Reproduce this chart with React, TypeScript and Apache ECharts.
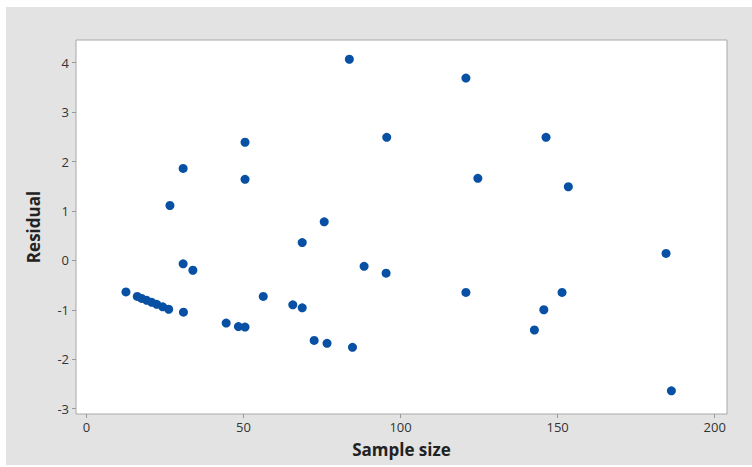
import React, { useEffect, useRef } from "react";
import * as echarts from "echarts";

const sampleSize: number[] = [
  12.6, 16.2, 17.6, 19.2, 20.8, 22.4, 24.3, 26.2, 30.9, 26.6, 30.8, 30.8, 33.9,
  50.5, 50.5, 44.5, 48.4, 50.5, 56.3, 65.7, 68.7, 68.7, 72.5, 75.7, 76.6, 83.7,
  84.7, 88.4, 95.6, 95.4, 120.8, 120.8, 124.6, 142.6, 145.6, 146.3, 151.4, 153.4,
  184.5, 186.2,
];
const residual: number[] = [
  -0.64, -0.73, -0.77, -0.81, -0.85, -0.89, -0.94, -0.99, -1.05, 1.11, 1.86, -0.07,
  -0.2, 2.39, 1.64, -1.27, -1.34, -1.35, -0.73, -0.9, -0.96, 0.36, -1.62, 0.78,
  -1.68, 4.07, -1.76, -0.12, 2.49, -0.26, 3.69, -0.65, 1.66, -1.41, -1.0, 2.49,
  -0.65, 1.49, 0.14, -2.64,
];
const xTicks: number[] = [0, 50, 100, 150, 200];
const yTicks: number[] = [-3, -2, -1, 0, 1, 2, 3, 4];

const FONT = "'Open Sans', 'Noto Sans', sans-serif";

export default function App() {
  const ref = useRef<HTMLDivElement>(null);
  useEffect(() => {
    if (!ref.current) return;
    const chart = echarts.init(ref.current, null, { renderer: "svg" });
    const points = sampleSize.map((x, i) => [x, residual[i]]);
    chart.setOption({
      animation: false,
      backgroundColor: "#ffffff",
      graphic: [
        {
          type: "rect",
          z: -10,
          silent: true,
          shape: { x: 6, y: 7, width: 746, height: 458 },
          style: { fill: "#e3e3e3" },
        },
      ],
      grid: {
        left: 76,
        top: 40,
        width: 651,
        height: 374,
        show: true,
        backgroundColor: "#ffffff",
        borderColor: "#a8a8a8",
        borderWidth: 1,
      },
      xAxis: {
        type: "value",
        min: -3.3,
        max: 203.9,
        name: "Sample size",
        nameLocation: "middle",
        nameGap: 27,
        nameTextStyle: { fontFamily: FONT, fontWeight: "bold", fontSize: 17, color: "#222" },
        axisLine: { show: false, onZero: false },
        splitLine: { show: false },
        axisTick: {
          show: true,
          length: 4,
          lineStyle: { color: "#999" },
          customValues: xTicks,
        },
        axisLabel: {
          customValues: xTicks,
          fontFamily: FONT,
          fontSize: 13,
          color: "#333",
          margin: 6,
        },
      },
      yAxis: {
        type: "value",
        min: -3.11,
        max: 4.46,
        name: "Residual",
        nameLocation: "middle",
        nameGap: 34,
        nameTextStyle: { fontFamily: FONT, fontWeight: "bold", fontSize: 17, color: "#222" },
        axisLine: { show: false, onZero: false },
        splitLine: { show: false },
        axisTick: {
          show: true,
          length: 4,
          lineStyle: { color: "#999" },
          customValues: yTicks,
        },
        axisLabel: {
          customValues: yTicks,
          fontFamily: FONT,
          fontSize: 13,
          color: "#333",
          margin: 7,
        },
      },
      series: [
        {
          type: "scatter",
          data: points,
          symbol: "circle",
          symbolSize: 9,
          itemStyle: { color: "#0750a4", opacity: 1 },
        },
      ],
    });
    return () => chart.dispose();
  }, []);
  return (
    <div
      ref={ref}
      style={{ position: "fixed", left: 0, top: 0, width: 752, height: 467 }}
    />
  );
}
